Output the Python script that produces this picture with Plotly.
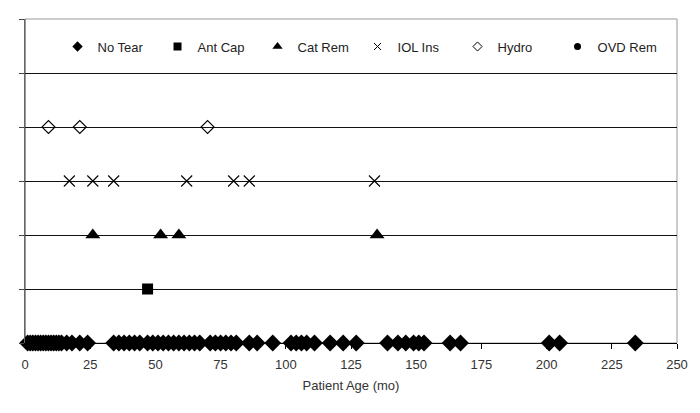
import plotly.graph_objects as go

# Data (patient age in months) per tear category
no_tear = [1, 2, 3, 4, 5, 6, 7, 8, 9, 10, 11, 12, 13, 14, 16, 18, 21, 24,
           34, 36, 38, 40, 42, 44, 47, 49, 51, 53, 55, 57, 59, 61, 63, 65, 67,
           71, 73, 75, 77, 79, 81, 86, 89, 95, 102, 104, 106, 108, 111,
           117, 122, 127, 139, 143, 146, 149, 151, 153, 163, 167, 201, 205, 234]
ant_cap = [47]
cat_rem = [26, 52, 59, 135]
iol_ins = [17, 26, 34, 62, 80, 86, 134]
hydro = [9, 21, 70]
ovd_rem = []

series_names = ["No Tear", "Ant Cap", "Cat Rem", "IOL Ins", "Hydro", "OVD Rem"]
series_data = [no_tear, ant_cap, cat_rem, iol_ins, hydro, ovd_rem]
series_level = [0, 1, 2, 3, 4, 5]
x_ticks = [0, 25, 50, 75, 100, 125, 150, 175, 200, 225, 250]

symbols = ["diamond", "square", "triangle-up", "x-thin-open", "diamond-open", "circle"]
sizes = [13, 11, 13, 11, 10, 10]
legend_sizes = [8, 8, 9, 7, 7, 7]

fig = go.Figure()
for name, data, lvl, sym, sz, lsz in zip(series_names, series_data, series_level,
                                          symbols, sizes, legend_sizes):
    is_open = "open" in sym
    if data:
        fig.add_trace(go.Scatter(
            x=data, y=[lvl] * len(data), mode="markers", name=name,
            cliponaxis=False, showlegend=False, legendgroup=name,
            marker=dict(symbol=sym, size=sz, color="black",
                        line=dict(color="#333333", width=1.1 if is_open else 0)),
        ))
    # legend entry (small marker like the original)
    fig.add_trace(go.Scatter(
        x=[None], y=[None], mode="markers", name=name, legendgroup=name,
        marker=dict(symbol=sym, size=lsz, color="black",
                    line=dict(color="#333333", width=1 if is_open else 0)),
    ))

fig.update_layout(
    width=700, height=413,
    margin=dict(l=25, r=20, t=19, b=70),
    paper_bgcolor="white", plot_bgcolor="white",
    font=dict(family="Liberation Sans, Arial, sans-serif", size=12, color="#333333"),
    showlegend=True,
    legend=dict(orientation="h", x=0.51, xanchor="center", y=0.915, yanchor="middle",
                entrywidth=55, font=dict(size=13, color="#222222"),
                bgcolor="rgba(0,0,0,0)", itemwidth=30),
    xaxis=dict(range=[0, 250], tickvals=x_ticks, ticks="outside", ticklen=5,
               tickcolor="black", showgrid=False, zeroline=False,
               showline=True, linecolor="black", linewidth=1, ticklabelstandoff=4,
               title=dict(text="Patient Age (mo)", font=dict(size=13, color="#333333"), standoff=10),
               tickfont=dict(size=13, color="#333333")),
    yaxis=dict(range=[0, 6], tickvals=[0, 1, 2, 3, 4, 5, 6], showticklabels=False,
               ticks="outside", ticklen=5, tickcolor="#444444",
               showgrid=True, gridcolor="#111111", gridwidth=1, zeroline=False,
               showline=True, linecolor="#666666", linewidth=1),
)
# gray border on top and right of plot area
fig.add_shape(type="rect", xref="paper", yref="paper", x0=0, x1=1, y0=0, y1=1,
              line=dict(color="#999999", width=1), layer="below")
fig.add_shape(type="line", xref="paper", yref="paper", x0=0, x1=0, y0=0, y1=1,
              line=dict(color="#666666", width=1), layer="below")

fig.write_html("out.html", config={"displayModeBar": False},
               post_script="document.body.style.margin='0';document.body.style.padding='0';")
